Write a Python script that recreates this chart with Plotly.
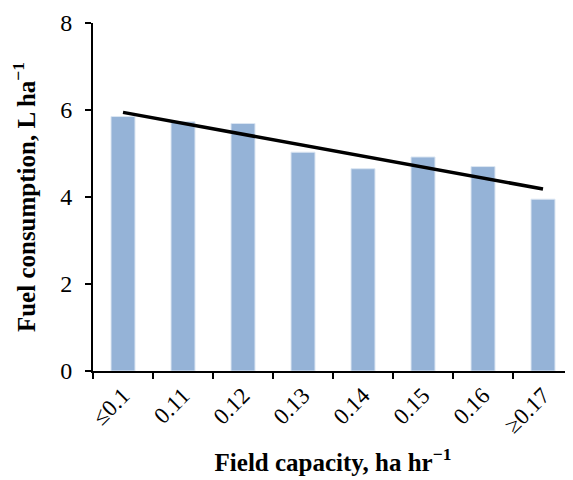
import plotly.graph_objects as go
import numpy as np

categories = ["≤0.1", "0.11", "0.12", "0.13", "0.14", "0.15", "0.16", "≥0.17"]
fuel_values = [5.85, 5.73, 5.69, 5.03, 4.65, 4.92, 4.70, 3.95]

xi = np.arange(1, len(fuel_values) + 1)
slope, intercept = np.polyfit(xi, fuel_values, 1)
trend = [intercept + slope * xi[0], intercept + slope * xi[-1]]

fig = go.Figure()
fig.add_trace(go.Bar(
    x=categories, y=fuel_values,
    marker=dict(color="#95B3D7", line=dict(color="#DCE6F2", width=1)),
    width=0.4,
))
fig.add_trace(go.Scatter(
    x=[categories[0], categories[-1]], y=trend,
    mode="lines", line=dict(color="black", width=3.5),
    cliponaxis=False,
))

serif = "Liberation Serif, Times New Roman, serif"
# page body has an 8px margin, so the figure is sized/offset to fill the window
fig.update_layout(
    width=565, height=472,
    margin=dict(l=85, r=0, t=15, b=109),
    plot_bgcolor="white", paper_bgcolor="white",
    showlegend=False,
    font=dict(family=serif, color="black"),
)
fig.update_xaxes(
    type="category", automargin=False,
    showline=True, linecolor="black", linewidth=2,
    ticks="outside", ticklen=6, tickwidth=2, tickcolor="black",
    tickson="boundaries",
    tickangle=-45,
    tickfont=dict(size=23, family=serif),
    showgrid=False,
    title=dict(text="<b>Field capacity, ha hr<sup>−1</sup></b>", font=dict(size=25, family=serif), standoff=16),
)
fig.update_yaxes(
    range=[0, 8], tickvals=[0, 2, 4, 6, 8], automargin=False,
    showline=True, linecolor="black", linewidth=2,
    ticks="outside", ticklen=6, tickwidth=2, tickcolor="black",
    tickfont=dict(size=24, family=serif),
    ticklabelstandoff=8,
    showgrid=False, zeroline=False,
    title=dict(text="<b>Fuel consumption, L ha<sup>−1</sup></b>", font=dict(size=25, family=serif), standoff=18),
)

fig.write_html("out.html")
